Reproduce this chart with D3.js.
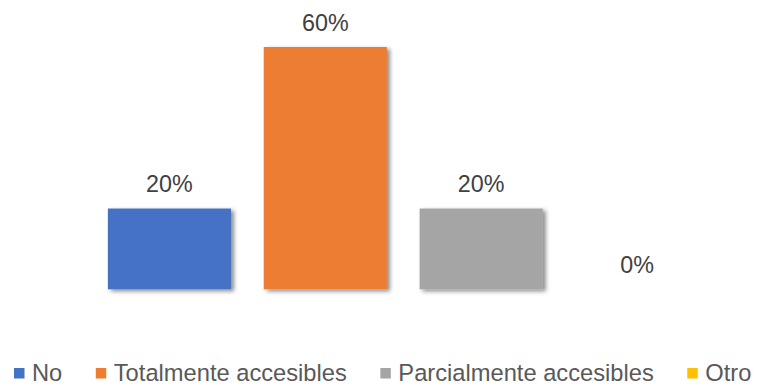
<!DOCTYPE html>
<html><head><meta charset="utf-8">
<script src="https://cdn.jsdelivr.net/npm/d3@7"></script>
<style>body{margin:0;background:#fff}svg{display:block}</style>
</head><body>
<svg id="c" width="760" height="385"></svg>
<script>
const categories = ["No", "Totalmente accesibles", "Parcialmente accesibles", "Otro"];
const values = [0.20, 0.60, 0.20, 0.00];
const colors = ["#4472C4", "#ED7D31", "#A5A5A5", "#FFC000"];

const svg = d3.select("#c");
const font = "'Liberation Sans', Arial, sans-serif";
const defs = svg.append("defs");
const f = defs.append("filter").attr("id","sh").attr("x","-10%").attr("y","-10%").attr("width","130%").attr("height","130%");
f.append("feDropShadow").attr("dx",3).attr("dy",2).attr("stdDeviation",2).attr("flood-color","#000").attr("flood-opacity",0.45);

const x = d3.scaleBand().domain(categories).range([91.5, 715]).paddingInner(0.21).paddingOuter(0.105);
const y = d3.scaleLinear().domain([0, 0.6]).range([289.3, 47]);

svg.append("g").selectAll("rect").data(categories).join("rect")
  .attr("x", d => x(d)).attr("width", x.bandwidth())
  .attr("y", (d,i) => y(values[i])).attr("height", (d,i) => y(0) - y(values[i]))
  .attr("fill", (d,i) => colors[i])
  .attr("filter", (d,i) => values[i] > 0 ? "url(#sh)" : null);

svg.append("g").selectAll("text").data(categories).join("text")
  .attr("x", d => x(d) + x.bandwidth()/2)
  .attr("y", (d,i) => y(values[i]) - 16.5)
  .attr("text-anchor","middle").attr("font-family",font).attr("font-size",23.3).attr("fill","#404040")
  .text((d,i) => d3.format(".0%")(values[i]));

const lg = svg.append("g");
let cx = 14;
categories.forEach((c,i) => {
  lg.append("rect").attr("x", cx).attr("y", 368).attr("width", 10.5).attr("height", 10.5).attr("fill", colors[i]);
  const t = lg.append("text").attr("x", cx + 18).attr("y", 381).attr("font-family",font).attr("font-size",23.7).attr("fill","#595959").text(c);
  cx += 18 + t.node().getComputedTextLength() + 33.5;
});
</script>
</body></html>
